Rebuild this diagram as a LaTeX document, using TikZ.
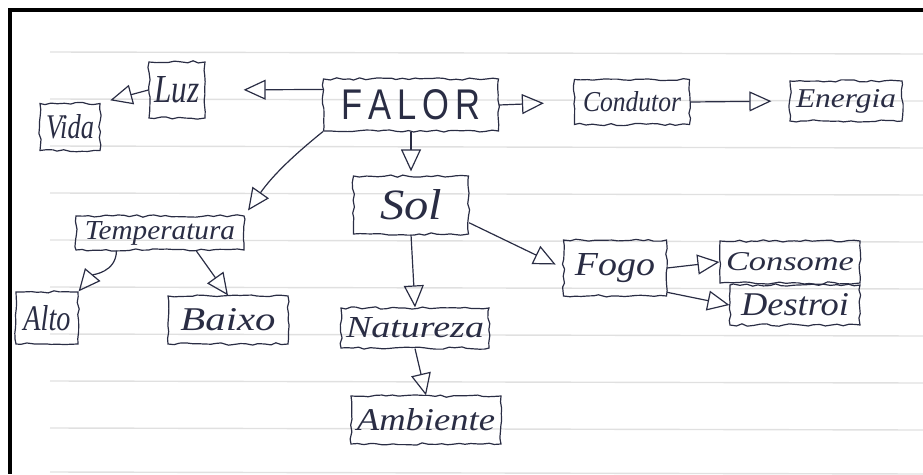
\documentclass[tikz,border=0pt]{standalone}
\usepackage{fontspec}
\setmainfont{Liberation Serif}
\newfontfamily\printfont{Liberation Sans}
\usetikzlibrary{arrows.meta,decorations.pathmorphing}
\definecolor{ink}{HTML}{2A2D44}
\definecolor{ruled}{HTML}{E0E0E0}
% handwritten word squeezed into a given width and height
\newcommand{\hw}[3]{\resizebox{#1pt}{#2pt}{\itshape #3}}
\begin{document}
\pgfmathsetseed{11}
\begin{tikzpicture}[x=1pt,y=-1pt,
  wobbly/.style={decorate,decoration={random steps,segment length=6pt,amplitude=1.2pt}},
  box/.style={draw=ink, line width=1.2pt, inner sep=0pt, text=ink, wobbly},
  arr/.style={draw=ink, line width=1.2pt,
    -{Triangle[open, length=22pt, width=20pt, line width=1.2pt]}}]
\useasboundingbox (0,0) rectangle (923,474);

% notebook ruling
\foreach \y in {52,99,146,193,240,287,334,381,428,472}
  \draw[ruled, line width=1.4pt] (50,\y) -- (923,\y+2);

% page frame
\fill[black] (8,8) rectangle (923,12);
\fill[black] (8,8) rectangle (12,474);

% concepts
\node[box, minimum width=175pt, minimum height=52pt] (falor) at (411,105)
  {\printfont\resizebox{138pt}{30pt}{F\,A\,L\,O\,R}};
\node[box, minimum width=56pt, minimum height=56pt] (luz) at (177,90) {\hw{45}{26}{Luz}};
\node[box, minimum width=60pt, minimum height=47pt] (vida) at (70,127) {\hw{48}{24}{Vida}};
\node[box, minimum width=115pt, minimum height=45pt] (condutor) at (632,102) {\hw{98}{20}{Condutor}};
\node[box, minimum width=112pt, minimum height=40pt] (energia) at (846,101) {\hw{100}{18}{Energia}};
\node[box, minimum width=115pt, minimum height=58pt] (sol) at (411,205) {\hw{62}{30}{Sol}};
\node[box, minimum width=168pt, minimum height=34pt] (temp) at (160,233) {\hw{150}{18}{Temperatura}};
\node[box, minimum width=62pt, minimum height=52pt] (alto) at (47,318) {\hw{47}{25}{Alto}};
\node[box, minimum width=120pt, minimum height=48pt] (baixo) at (228,320) {\hw{95}{22}{Baixo}};
\node[box, minimum width=148pt, minimum height=40pt] (natureza) at (415,328) {\hw{138}{20}{Natureza}};
\node[box, minimum width=150pt, minimum height=48pt] (ambiente) at (426,420) {\hw{138}{22}{Ambiente}};
\node[box, minimum width=103pt, minimum height=56pt] (fogo) at (615,268) {\hw{80}{22}{Fogo}};
\node[box, minimum width=140pt, minimum height=42pt] (consome) at (790,262) {\hw{128}{18}{Consome}};
\node[box, minimum width=130pt, minimum height=40pt] (destroi) at (795,305) {\hw{108}{22}{Destroi}};

% links
\draw[arr, shorten >=38pt] (falor.170) -- (luz.east);
\draw[arr, shorten >=10pt] (luz.west) -- (vida.north east);
\draw[arr, shorten >=30pt] (falor.east) -- (condutor.west);
\draw[arr, shorten >=18pt] (condutor.east) -- (energia.west);
\draw[arr, shorten >=4pt] (falor.south) -- (sol.north);
\draw[arr, shorten >=6pt] (falor.south west) to[bend right=8] (temp.north east);
\draw[arr] (temp.202) to[out=-90,in=50] (alto.north east);
\draw[arr] (temp.334) -- (baixo.north);
\draw[arr] (sol.south) -- (natureza.north);
\draw[arr] (natureza.south) -- (ambiente.north);
\draw[arr, shorten >=8pt] (sol.343) -- (fogo.west);
\draw[arr] (fogo.east) -- (consome.west);
\draw[arr] (fogo.-25) -- (destroi.west);
\end{tikzpicture}
\end{document}
